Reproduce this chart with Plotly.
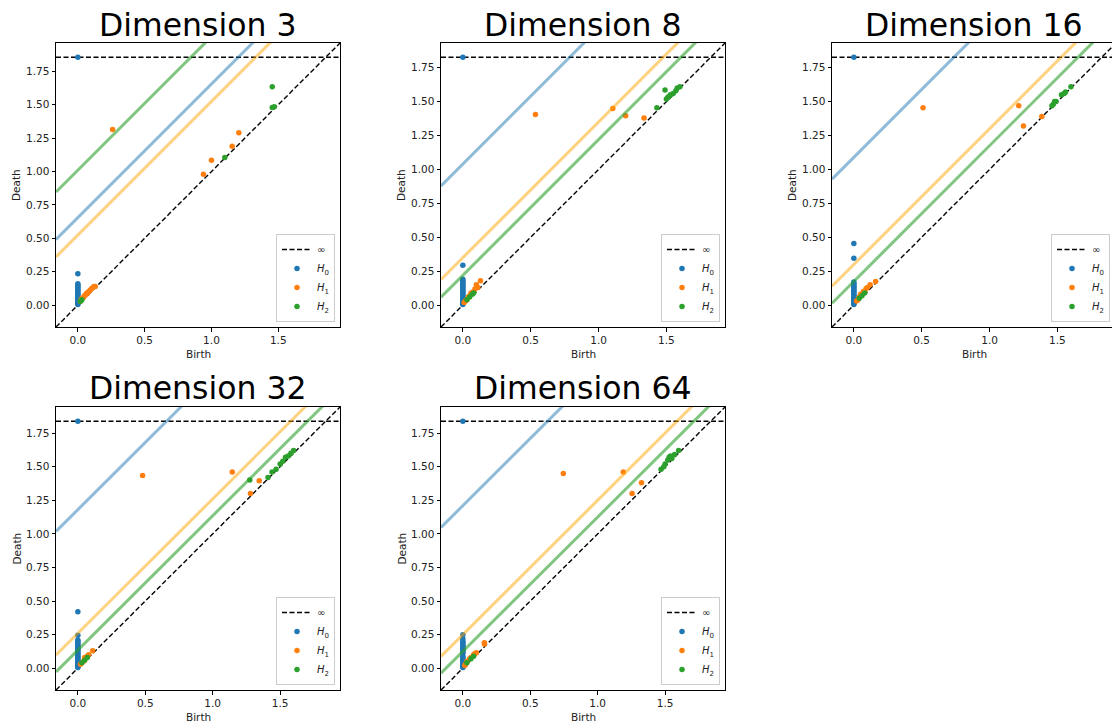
import plotly.graph_objects as go

INF = float("inf")

titles = ["Dimension 3", "Dimension 8", "Dimension 16", "Dimension 32", "Dimension 64"]

# ---- H0 deaths (births all 0) ----
h0_death_d3 = [0.005, 0.01, 0.02, 0.03, 0.04, 0.05, 0.06, 0.07, 0.08, 0.09, 0.10, 0.11,
               0.12, 0.13, 0.14, 0.15, 0.16, 0.235, INF]
h0_death_d8 = [0.005, 0.01, 0.02, 0.03, 0.04, 0.05, 0.06, 0.07, 0.08, 0.09, 0.10, 0.11,
               0.12, 0.13, 0.14, 0.15, 0.16, 0.17, 0.18, 0.19, 0.295, INF]
h0_death_d16 = [0.005, 0.01, 0.02, 0.03, 0.04, 0.05, 0.06, 0.07, 0.08, 0.09, 0.10, 0.11,
                0.12, 0.13, 0.14, 0.15, 0.16, 0.17, 0.345, 0.455, INF]
h0_death_d32 = [0.005, 0.01, 0.02, 0.03, 0.04, 0.05, 0.06, 0.07, 0.08, 0.09, 0.10, 0.11,
                0.12, 0.13, 0.14, 0.15, 0.16, 0.17, 0.18, 0.19, 0.20, 0.21, 0.245, 0.42, INF]
h0_death_d64 = [0.005, 0.01, 0.02, 0.03, 0.04, 0.05, 0.06, 0.07, 0.08, 0.09, 0.11,
                0.12, 0.13, 0.14, 0.15, 0.16, 0.17, 0.18, 0.19, 0.20, 0.22, 0.25, INF]

# ---- H1 (birth, death) ----
h1_d3 = [(0.02, 0.03), (0.025, 0.04), (0.03, 0.05), (0.04, 0.055), (0.05, 0.07), (0.06, 0.08),
         (0.065, 0.09), (0.07, 0.085), (0.08, 0.10), (0.09, 0.11), (0.10, 0.12), (0.11, 0.13),
         (0.12, 0.14), (0.13, 0.14), (0.26, 1.315), (0.94, 0.98), (1.00, 1.085),
         (1.155, 1.19), (1.205, 1.29)]
h1_d8 = [(0.01, 0.02), (0.02, 0.03), (0.03, 0.04), (0.04, 0.06), (0.05, 0.07), (0.06, 0.09),
         (0.08, 0.10), (0.09, 0.12), (0.11, 0.13), (0.10, 0.15), (0.13, 0.18),
         (0.535, 1.405), (1.105, 1.45), (1.20, 1.395), (1.335, 1.38)]
h1_d16 = [(0.02, 0.03), (0.03, 0.04), (0.04, 0.06), (0.05, 0.08), (0.07, 0.10), (0.09, 0.12),
          (0.10, 0.13), (0.12, 0.15), (0.16, 0.175), (0.51, 1.455), (1.215, 1.47),
          (1.25, 1.32), (1.385, 1.39)]
h1_d32 = [(0.02, 0.03), (0.03, 0.04), (0.04, 0.05), (0.05, 0.06), (0.05, 0.08), (0.07, 0.09),
          (0.08, 0.10), (0.11, 0.13), (0.48, 1.435), (1.145, 1.46), (1.28, 1.30),
          (1.345, 1.395)]
h1_d64 = [(0.015, 0.02), (0.02, 0.03), (0.03, 0.05), (0.05, 0.07), (0.06, 0.08), (0.08, 0.10),
          (0.09, 0.11), (0.10, 0.115), (0.16, 0.18), (0.16, 0.19), (0.745, 1.45),
          (1.19, 1.46), (1.255, 1.30), (1.325, 1.38)]

# ---- H2 (birth, death) ----
h2_d3 = [(0.02, 0.03), (0.03, 0.04), (1.10, 1.105), (1.455, 1.48), (1.47, 1.485),
         (1.455, 1.635)]
h2_d8 = [(0.03, 0.04), (0.05, 0.06), (0.07, 0.08), (0.08, 0.09), (1.43, 1.455), (1.49, 1.585),
         (1.50, 1.52), (1.51, 1.53), (1.52, 1.54), (1.53, 1.55), (1.55, 1.56), (1.57, 1.58),
         (1.58, 1.60), (1.60, 1.61)]
h2_d16 = [(0.04, 0.05), (0.06, 0.07), (0.08, 0.09), (1.46, 1.47), (1.47, 1.48), (1.48, 1.50),
          (1.49, 1.50), (1.53, 1.55), (1.55, 1.56), (1.56, 1.57), (1.60, 1.61)]
h2_d32 = [(0.03, 0.04), (0.05, 0.06), (0.07, 0.08), (1.275, 1.40), (1.41, 1.42), (1.44, 1.46),
          (1.47, 1.48), (1.50, 1.52), (1.52, 1.54), (1.54, 1.57), (1.56, 1.58), (1.58, 1.60),
          (1.60, 1.62)]
h2_d64 = [(0.03, 0.04), (0.06, 0.07), (0.08, 0.09), (1.47, 1.48), (1.49, 1.50), (1.50, 1.52),
          (1.52, 1.55), (1.53, 1.57), (1.54, 1.58), (1.55, 1.56), (1.57, 1.59), (1.60, 1.62)]

# ---- confidence band offsets (death - birth) ----
band_h0 = [0.655, 1.04, 1.09, 1.18, 1.21]
band_h1 = [0.525, 0.35, 0.30, 0.26, 0.25]
band_h2 = [1.01, 0.22, 0.175, 0.135, 0.125]

h0_all = [h0_death_d3, h0_death_d8, h0_death_d16, h0_death_d32, h0_death_d64]
h1_all = [h1_d3, h1_d8, h1_d16, h1_d32, h1_d64]
h2_all = [h2_d3, h2_d8, h2_d16, h2_d32, h2_d64]

# ---- layout geometry (pixels) ----
W, H = 1112, 727
boxes = [(56, 340, 43, 327), (441, 725, 43, 327), (832, 1116, 43, 327),
         (56, 340, 407, 690), (441, 725, 407, 690)]
title_y = [25.5, 25.5, 25.5, 388, 388]

C0, C1, C2 = "#1f77b4", "#ff7f0e", "#2ca02c"
BAND = ["rgba(31,119,180,0.5)", "rgba(255,165,0,0.5)", "rgba(44,160,44,0.6)"]
FONT = "DejaVu Sans"

fig = go.Figure()
layout = dict(width=W, height=H, autosize=False, margin=dict(l=0, r=0, t=0, b=0),
              paper_bgcolor="white", plot_bgcolor="white", showlegend=True,
              font=dict(family=FONT, color="#222222"))
annotations = []

for i in range(5):
    sfx = "" if i == 0 else str(i + 1)
    xref, yref = "x" + sfx, "y" + sfx
    lg = "legend" + sfx
    h0 = h0_all[i]
    h1 = h1_all[i]
    h2 = h2_all[i]
    finite = [0.0] + [d for d in h0 if d != INF] + [v for p in h1 + h2 for v in p]
    ax_min, ax_max = min(finite), max(finite)
    buf = (ax_max - ax_min) / 5
    x_down = ax_min - buf / 2
    x_up = ax_max + buf
    b_inf = x_down + (x_up - x_down) * 0.95

    l, r, t, b = boxes[i]
    rr = min(r, W)
    x_hi = x_down + (x_up - x_down) * (rr - l) / (r - l)

    # diagonal
    fig.add_trace(go.Scatter(x=[x_down, x_up], y=[x_down, x_up], mode="lines",
                             line=dict(color="black", width=1.4, dash="5px,2.5px"),
                             showlegend=False, hoverinfo="skip", xaxis=xref, yaxis=yref))
    # infinity line
    fig.add_trace(go.Scatter(x=[x_down, x_up], y=[b_inf, b_inf], mode="lines",
                             line=dict(color="black", width=1.5, dash="5px,2.5px"),
                             name="∞", legend=lg, xaxis=xref, yaxis=yref))
    # H0
    fig.add_trace(go.Scatter(x=[0.0] * len(h0), y=[b_inf if d == INF else d for d in h0],
                             mode="markers", marker=dict(color=C0, size=5.5),
                             name="<i>H</i><sub>0</sub>", legend=lg, xaxis=xref, yaxis=yref))
    fig.add_trace(go.Scatter(x=[p[0] for p in h1], y=[p[1] for p in h1],
                             mode="markers", marker=dict(color=C1, size=5.5),
                             name="<i>H</i><sub>1</sub>", legend=lg, xaxis=xref, yaxis=yref))
    fig.add_trace(go.Scatter(x=[p[0] for p in h2], y=[p[1] for p in h2],
                             mode="markers", marker=dict(color=C2, size=5.5),
                             name="<i>H</i><sub>2</sub>", legend=lg, xaxis=xref, yaxis=yref))
    # confidence bands
    for c, col in zip([band_h0[i], band_h1[i], band_h2[i]], BAND):
        fig.add_trace(go.Scatter(x=[x_down, x_up], y=[x_down + c, x_up + c], mode="lines",
                                 line=dict(color=col, width=3), showlegend=False,
                                 hoverinfo="skip", xaxis=xref, yaxis=yref))

    dom_x = [l / W, rr / W]
    dom_y = [1 - b / H, 1 - t / H]
    layout["xaxis" + sfx] = dict(domain=dom_x, anchor=yref, range=[x_down, x_hi],
                                 tick0=0, dtick=0.5, tickformat=".1f",
                                 showline=True, mirror=True, linecolor="black", linewidth=1,
                                 ticks="outside", ticklen=3.5, tickwidth=1, tickcolor="black",
                                 showgrid=False, zeroline=False,
                                 tickfont=dict(size=10.5, family=FONT, color="#222222"))
    layout["yaxis" + sfx] = dict(domain=dom_y, anchor=xref, range=[x_down, x_up],
                                 tick0=0, dtick=0.25, tickformat=".2f",
                                 showline=True, mirror=(r <= W), linecolor="black", linewidth=1,
                                 ticks="outside", ticklen=3.5, tickwidth=1, tickcolor="black",
                                 showgrid=False, zeroline=False,
                                 tickfont=dict(size=10.5, family=FONT, color="#222222"))
    layout[lg] = dict(x=(r - 5) / W if r <= W else (W - 2) / W,
                      y=1 - (b - 5) / H, xanchor="right", yanchor="bottom",
                      bgcolor="rgba(255,255,255,0.8)", bordercolor="#cccccc", borderwidth=1,
                      font=dict(size=10, family=FONT, color="#222222"),
                      itemwidth=30, tracegroupgap=0)

    cx = (l + r) / 2
    annotations.append(dict(text=titles[i], x=cx / W, y=1 - title_y[i] / H, xref="paper",
                            yref="paper", xanchor="center", yanchor="middle", showarrow=False,
                            font=dict(size=31.5, family=FONT, color="black")))
    annotations.append(dict(text="Birth", x=cx / W, y=1 - (b + 27) / H, xref="paper",
                            yref="paper", xanchor="center", yanchor="middle", showarrow=False,
                            font=dict(size=10.5, family=FONT, color="#222222")))
    annotations.append(dict(text="Death", x=(l - 40) / W, y=1 - ((t + b) / 2) / H,
                            xref="paper", yref="paper", xanchor="center", yanchor="middle",
                            textangle=-90, showarrow=False,
                            font=dict(size=10.5, family=FONT, color="#222222")))

layout["annotations"] = annotations
fig.update_layout(**layout)
fig.write_html("out.html", config={"displayModeBar": False},
               post_script="document.body.style.margin='0';document.body.style.overflow='hidden';")
